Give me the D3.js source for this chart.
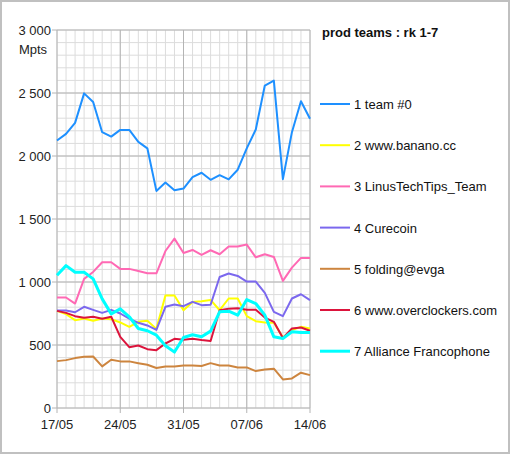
<!DOCTYPE html>
<html>
<head>
<meta charset="utf-8">
<script src="https://cdn.jsdelivr.net/npm/d3@7"></script>
<style>
  body { margin: 0; background: #fff; }
  text { font-family: "Liberation Sans", Arial, sans-serif; }
</style>
</head>
<body>
<svg id="chart" width="510" height="454"></svg>
<script>
// days 17/05 .. 14/06
var startDay = new Date(2020, 4, 17);
var dayCount = 29;
var tickLabels = ["17/05", "24/05", "31/05", "07/06", "14/06"];

var teamNames = ["1 team #0", "2 www.banano.cc", "3 LinusTechTips_Team", "4 Curecoin",
  "5 folding@evga", "6 www.overclockers.com", "7 Alliance Francophone"];

var team0 = [2123, 2176, 2263, 2497, 2428, 2189, 2154, 2207, 2207, 2112, 2061, 1723, 1790, 1729, 1742,
  1832, 1867, 1811, 1848, 1814, 1891, 2061, 2210, 2559, 2598, 1816, 2189, 2434, 2295];
var banano = [771, 745, 697, 710, 692, 710, 705, 679, 644, 684, 692, 628, 893, 893, 776,
  842, 848, 858, 776, 869, 869, 729, 689, 679, 676, 560, 618, 644, 631];
var ltt = [877, 877, 829, 1025, 1080, 1157, 1157, 1104, 1104, 1088, 1069, 1069, 1246, 1344, 1230,
  1254, 1215, 1252, 1220, 1281, 1281, 1297, 1196, 1220, 1199, 1009, 1114, 1191, 1191];
var curecoin = [774, 774, 760, 803, 779, 755, 779, 750, 710, 676, 655, 620, 803, 821, 808,
  842, 816, 819, 1040, 1067, 1048, 1003, 1003, 914, 763, 729, 869, 903, 856];
var evga = [372, 380, 396, 407, 409, 330, 383, 370, 370, 356, 343, 317, 330, 330, 338,
  338, 333, 356, 338, 338, 322, 322, 293, 306, 312, 227, 235, 280, 261];
var overclockers = [771, 755, 729, 716, 724, 708, 724, 565, 483, 496, 467, 459, 512, 549, 541,
  549, 539, 531, 776, 787, 792, 779, 779, 718, 684, 555, 631, 639, 613];
var alliance = [1054, 1130, 1077, 1077, 1025, 866, 747, 787, 724, 631, 613, 578, 494, 444, 560,
  581, 565, 610, 763, 768, 737, 861, 829, 737, 565, 552, 605, 599, 599];

var seriesValues = [team0, banano, ltt, curecoin, evga, overclockers, alliance];
var colors = ["#1e90ff", "#ffff00", "#ff69b4", "#7b68ee", "#cd853f", "#dc143c", "#00ffff"];
var widths = [2, 2, 2, 2, 2, 2, 3];

var svg = d3.select("#chart");
var margin = { left: 57, top: 30, right: 200, bottom: 46 };
var width = 310 - margin.left, height = 408 - margin.top;

// outer frame
svg.append("rect")
  .attr("x", 1).attr("y", 1).attr("width", 508).attr("height", 452)
  .attr("fill", "#fff").attr("stroke", "#c0c0c0").attr("stroke-width", 2);

var days = d3.range(dayCount).map(function (i) { return d3.timeDay.offset(startDay, i); });

var x = d3.scaleTime()
  .domain([days[0], days[dayCount - 1]])
  .range([margin.left, margin.left + width]);
var y = d3.scaleLinear()
  .domain([0, 3000])
  .range([margin.top + height, margin.top]);

var g = svg.append("g");

// minor grid
g.append("g").selectAll("line")
  .data(days)
  .enter().append("line")
  .attr("x1", function (d) { return x(d); }).attr("x2", function (d) { return x(d); })
  .attr("y1", y(0)).attr("y2", y(3000))
  .attr("stroke", "#dcdcdc").attr("stroke-width", 1);
g.append("g").selectAll("line")
  .data(d3.range(0, 3001, 100))
  .enter().append("line")
  .attr("x1", x.range()[0]).attr("x2", x.range()[1])
  .attr("y1", function (d) { return y(d); }).attr("y2", function (d) { return y(d); })
  .attr("stroke", "#dcdcdc").attr("stroke-width", 1);

// major grid
var majorDays = days.filter(function (d, i) { return i % 7 === 0; });
g.append("g").selectAll("line")
  .data(majorDays)
  .enter().append("line")
  .attr("x1", function (d) { return x(d); }).attr("x2", function (d) { return x(d); })
  .attr("y1", y(0) + 5).attr("y2", y(3000))
  .attr("stroke", "#b4b4b4").attr("stroke-width", 1);
g.append("g").selectAll("line")
  .data(d3.range(0, 3001, 500))
  .enter().append("line")
  .attr("x1", x.range()[0] - 5).attr("x2", x.range()[1])
  .attr("y1", function (d) { return y(d); }).attr("y2", function (d) { return y(d); })
  .attr("stroke", "#b4b4b4").attr("stroke-width", 1);

// y axis labels
var fmt = function (v) { return d3.format(",")(v).replace(",", " "); };
g.append("g").selectAll("text")
  .data(d3.range(0, 3001, 500))
  .enter().append("text")
  .attr("x", margin.left - 6)
  .attr("y", function (d) { return y(d) + 5; })
  .attr("text-anchor", "end")
  .attr("font-size", 13)
  .attr("fill", "#222")
  .text(fmt);

svg.append("text")
  .attr("x", 33).attr("y", 54)
  .attr("text-anchor", "middle")
  .attr("font-size", 13).attr("fill", "#222")
  .text("Mpts");

// x labels
g.append("g").selectAll("text")
  .data(majorDays)
  .enter().append("text")
  .attr("x", function (d) { return x(d); })
  .attr("y", 429)
  .attr("text-anchor", "middle")
  .attr("font-size", 13).attr("fill", "#222")
  .text(function (d, i) { return tickLabels[i]; });

// lines
var line = d3.line()
  .x(function (d, i) { return x(days[i]); })
  .y(function (d) { return y(d); });

g.append("g").selectAll("path")
  .data(seriesValues)
  .enter().append("path")
  .attr("d", line)
  .attr("fill", "none")
  .attr("stroke", function (d, i) { return colors[i]; })
  .attr("stroke-width", function (d, i) { return widths[i]; })
  .attr("stroke-linejoin", "round");

// title + legend
svg.append("text")
  .attr("x", 322).attr("y", 37)
  .attr("font-size", 13).attr("font-weight", "bold").attr("fill", "#111")
  .text("prod teams : rk 1-7");

var legend = svg.append("g").selectAll("g")
  .data(teamNames)
  .enter().append("g")
  .attr("transform", function (d, i) { return "translate(320," + (104 + i * 41.2) + ")"; });
legend.append("line")
  .attr("x1", 0).attr("x2", 30)
  .attr("stroke", function (d, i) { return colors[i]; })
  .attr("stroke-width", function (d, i) { return widths[i]; });
legend.append("text")
  .attr("x", 34).attr("y", 5)
  .attr("font-size", 13).attr("fill", "#111")
  .text(function (d) { return d; });
</script>
</body>
</html>
